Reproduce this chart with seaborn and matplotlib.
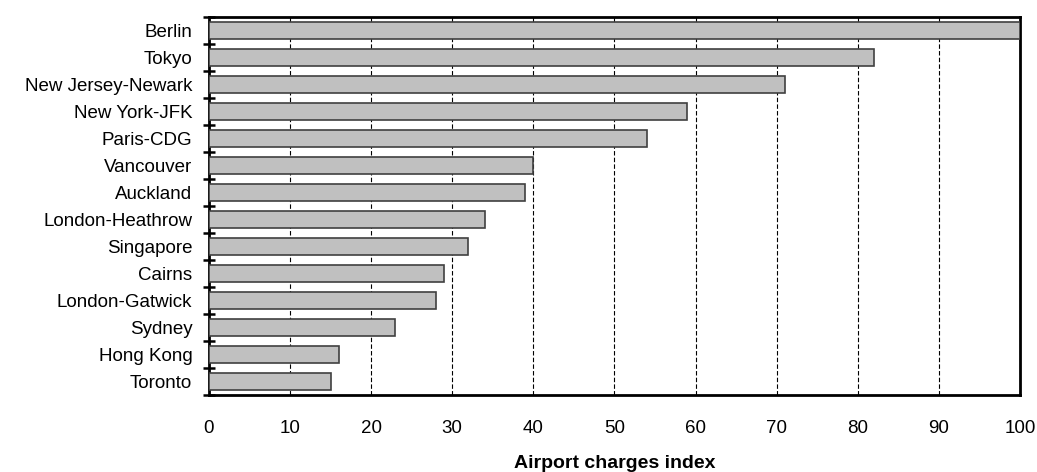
import matplotlib
matplotlib.use('Agg')
import matplotlib.pyplot as plt
import numpy as np
import pandas as pd
import seaborn as sns

airports = ['Berlin', 'Tokyo', 'New Jersey-Newark', 'New York-JFK', 'Paris-CDG',
            'Vancouver', 'Auckland', 'London-Heathrow', 'Singapore', 'Cairns',
            'London-Gatwick', 'Sydney', 'Hong Kong', 'Toronto']
charges_index = [100, 82, 71, 59, 54, 40, 39, 34, 32, 29, 28, 23, 16, 15]

sns.set_theme(style='white')
plt.rcParams['font.family'] = ['Liberation Sans', 'DejaVu Sans']

df = pd.DataFrame({'airport': airports, 'index': charges_index})

fig = plt.figure(figsize=(10.37, 4.72), dpi=100)
ax = fig.add_axes([0.2015, 0.163, 0.782, 0.801])

sns.barplot(data=df, x='index', y='airport', ax=ax, color='#c0c0c0',
            saturation=1, width=0.66, edgecolor='#404040', linewidth=1.2, zorder=3)

ax.set_xlim(0, 100)
ax.set_ylim(len(airports) - 0.5, -0.5)
ax.set_xticks(np.arange(0, 101, 10))
ax.grid(axis='x', color='black', linestyle=(0, (4, 2)), linewidth=0.8, zorder=0)
ax.grid(axis='y', visible=False)

# category boundary ticks crossing the left spine
ax.set_yticks(np.arange(-0.5, len(airports), 1), minor=True)
ax.tick_params(axis='y', which='major', length=0, labelsize=13.5, pad=12, colors='black')
ax.tick_params(axis='y', which='minor', left=True, direction='inout', length=9, width=1.8, color='black')
ax.tick_params(axis='x', which='major', length=0, labelsize=13.5, pad=18, colors='black')

for side in ['left', 'right', 'top', 'bottom']:
    ax.spines[side].set_visible(True)
    ax.spines[side].set_color('black')
    ax.spines[side].set_linewidth(2)

ax.set_ylabel('')
ax.set_xlabel('Airport charges index', fontsize=14, fontweight='bold',
              color='black', labelpad=13)

plt.savefig('out.png', dpi=100)
plt.close()
